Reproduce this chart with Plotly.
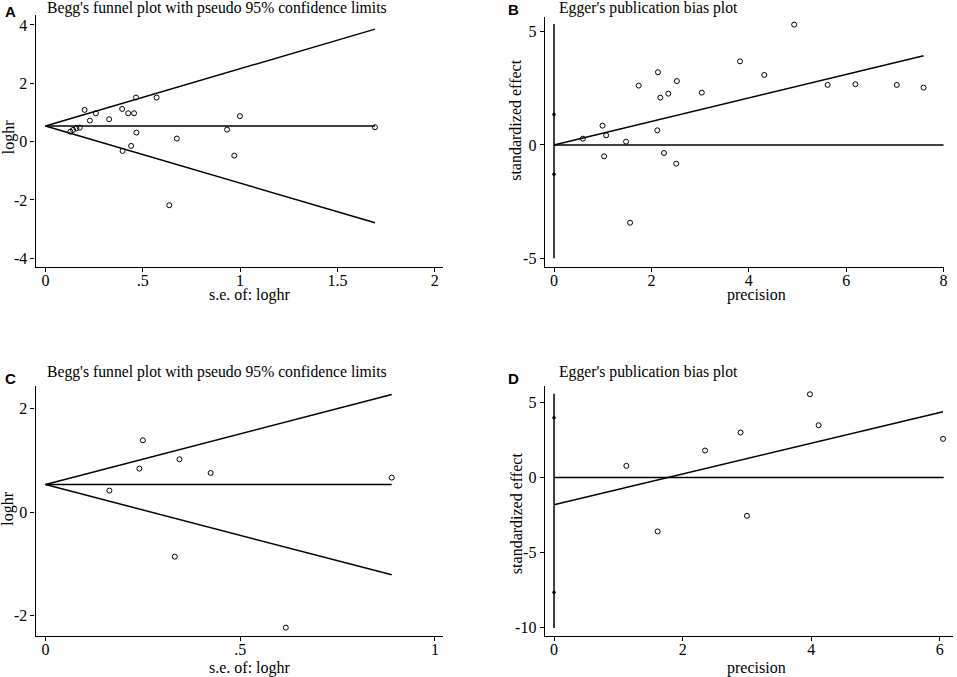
import numpy as np
import plotly.graph_objects as go

# ---------------- data ----------------
# Panel A: Begg's funnel plot
a_se = [0.128, 0.142, 0.159, 0.176, 0.201, 0.228, 0.259, 0.327, 0.394, 0.396, 0.425,
        0.440, 0.455, 0.465, 0.467, 0.571, 0.636, 0.675, 0.933, 0.970, 0.999, 1.693]
a_loghr = [0.343, 0.40, 0.457, 0.48, 1.086, 0.72, 0.971, 0.766, 1.12, -0.32, 0.971,
           -0.149, 0.971, 1.509, 0.309, 1.509, -2.183, 0.103, 0.411, -0.48, 0.869, 0.491]
a_pooled = 0.537

# Panel B: Egger's plot
b_prec = [0.593, 0.996, 1.03, 1.071, 1.48, 1.562, 1.739, 2.121, 2.135, 2.183, 2.258,
          2.347, 2.51, 2.524, 3.035, 3.82, 4.318, 4.932, 5.62, 6.19, 7.04, 7.59]
b_std = [0.279, 0.853, -0.5, 0.426, 0.147, -3.43, 2.62, 0.647, 3.21, 2.09, -0.353,
         2.265, -0.824, 2.82, 2.31, 3.69, 3.09, 5.31, 2.65, 2.68, 2.65, 2.53]
b_intercept, b_slope = 0.0, 0.519
b_ci = [-1.29, 1.34]
b_vline = [-5.0, 5.34]
b_zero_end = 8.0

# Panel C: Begg's funnel plot
c_se = [0.164, 0.241, 0.250, 0.332, 0.344, 0.424, 0.617, 0.889]
c_loghr = [0.419, 0.844, 1.391, -0.857, 1.024, 0.760, -2.229, 0.670]
c_pooled = 0.535

# Panel D: Egger's plot
d_prec = [1.125, 1.611, 2.349, 2.901, 3.0, 3.98, 4.115, 6.05]
d_std = [0.776, -3.59, 1.796, 2.993, -2.55, 5.54, 3.48, 2.57]
d_intercept, d_slope = -1.82, 1.025
d_ci = [-7.63, 3.97]
d_vline = [-10.02, 5.57]
d_zero_end = 6.06

# tick values and labels
a_xt = [0, 0.5, 1, 1.5, 2]; a_xl = ["0", ".5", "1", "1.5", "2"]
a_yt = [-4, -2, 0, 2, 4]; a_yl = ["-4", "-2", "0", "2", "4"]
b_xt = [0, 2, 4, 6, 8]; b_xl = ["0", "2", "4", "6", "8"]
b_yt = [-5, 0, 5]; b_yl = ["-5", "0", "5"]
c_xt = [0, 0.5, 1]; c_xl = ["0", ".5", "1"]
c_yt = [-2, 0, 2]; c_yl = ["-2", "0", "2"]
d_xt = [0, 2, 4, 6]; d_xl = ["0", "2", "4", "6"]
d_yt = [-10, -5, 0, 5]; d_yl = ["-10", "-5", "0", "5"]

W, H = 957, 677
SERIF = "Liberation Serif"
LINE = dict(color="black", width=1.5)

fig = go.Figure()

def px(x):
    return x / W

def py(y):
    return 1 - y / H

def add_begg(se, lhr, pooled, xa, ya):
    smax = max(se)
    xs = [0, smax]
    fig.add_trace(go.Scatter(x=xs, y=[pooled, pooled], mode="lines", line=LINE,
                             xaxis=xa, yaxis=ya, showlegend=False, hoverinfo="skip"))
    fig.add_trace(go.Scatter(x=xs, y=[pooled + 1.96 * s for s in xs], mode="lines", line=LINE,
                             xaxis=xa, yaxis=ya, showlegend=False, hoverinfo="skip"))
    fig.add_trace(go.Scatter(x=xs, y=[pooled - 1.96 * s for s in xs], mode="lines", line=LINE,
                             xaxis=xa, yaxis=ya, showlegend=False, hoverinfo="skip"))
    fig.add_trace(go.Scatter(x=se, y=lhr, mode="markers",
                             marker=dict(symbol="circle-open", size=5, color="black",
                                         line=dict(width=1, color="black")),
                             xaxis=xa, yaxis=ya, showlegend=False))

def add_egger(prec, std, b0, b1, ci, vline, zend, xa, ya):
    pmax = max(prec)
    fig.add_trace(go.Scatter(x=[0, 0], y=vline, mode="lines", line=LINE,
                             xaxis=xa, yaxis=ya, showlegend=False, hoverinfo="skip"))
    fig.add_trace(go.Scatter(x=[0, zend], y=[0, 0], mode="lines", line=LINE,
                             xaxis=xa, yaxis=ya, showlegend=False, hoverinfo="skip"))
    fig.add_trace(go.Scatter(x=[0, pmax], y=[b0, b0 + b1 * pmax], mode="lines", line=LINE,
                             xaxis=xa, yaxis=ya, showlegend=False, hoverinfo="skip"))
    fig.add_trace(go.Scatter(x=[0, 0], y=ci, mode="markers",
                             marker=dict(symbol="circle", size=3.5, color="black"),
                             xaxis=xa, yaxis=ya, showlegend=False))
    fig.add_trace(go.Scatter(x=prec, y=std, mode="markers",
                             marker=dict(symbol="circle-open", size=5, color="black",
                                         line=dict(width=1, color="black")),
                             xaxis=xa, yaxis=ya, showlegend=False))

add_begg(a_se, a_loghr, a_pooled, "x", "y")
add_egger(b_prec, b_std, b_intercept, b_slope, b_ci, b_vline, b_zero_end, "x2", "y2")
add_begg(c_se, c_loghr, c_pooled, "x3", "y3")
add_egger(d_prec, d_std, d_intercept, d_slope, d_ci, d_vline, d_zero_end, "x4", "y4")

def axis(domain, rng, tv, tt, anchor, standoff=0):
    return dict(domain=domain, range=rng, tickvals=tv, ticktext=tt, showline=True,
                linecolor="black", linewidth=1.2, ticks="outside", ticklen=4, tickwidth=1.2,
                tickcolor="black", showgrid=False, zeroline=False, mirror=False, anchor=anchor,
                ticklabelstandoff=standoff, fixedrange=True,
                tickfont=dict(family=SERIF, size=16, color="black"))

left_dom = [px(35.7), px(445)]
right_dom = [px(547), 1.0]
top_dom = [py(266.7), py(15)]
bot_dom = [py(636), py(386)]

XS = -5
YS = 0

fig.update_layout(
    width=W, height=H, margin=dict(l=0, r=0, t=0, b=0),
    paper_bgcolor="white", plot_bgcolor="white", showlegend=False,
    font=dict(family=SERIF, size=16, color="black"),
    xaxis=axis(left_dom, [-0.051, 2.043], a_xt, a_xl, "y", XS),
    yaxis=axis(top_dom, [-4.29, 4.34], a_yt, a_yl, "x", YS),
    xaxis2=axis([px(547), px(948)], [-0.191, 8.01], b_xt, b_xl, "y2", XS),
    yaxis2=axis([py(266.7), py(16.7)], [-5.37, 5.66], b_yt, b_yl, "x2", YS),
    xaxis3=axis(left_dom, [-0.0256, 1.021], c_xt, c_xl, "y3", XS),
    yaxis3=axis(bot_dom, [-2.39, 2.44], c_yt, c_yl, "x3", YS),
    xaxis4=axis(right_dom, [-0.145, 6.205], d_xt, d_xl, "y4", XS),
    yaxis4=axis(bot_dom, [-10.55, 6.09], d_yt, d_yl, "x4", YS),
)

def ann(text, x, y, xanchor="center", yanchor="middle", angle=0, size=16, family=SERIF, bold=False):
    fig.add_annotation(text=("<b>%s</b>" % text) if bold else text,
                       x=px(x), y=py(y), xref="paper", yref="paper",
                       xanchor=xanchor, yanchor=yanchor, textangle=angle, showarrow=False,
                       borderpad=0,
                       font=dict(family=family, size=size, color="black"))

# Panel letters
ann("A", 11, 11, bold=True, family="Liberation Sans", size=15)
ann("B", 516, 9.5, bold=True, family="Liberation Sans", size=15)
ann("C", 10.5, 378, bold=True, family="Liberation Sans", size=15)
ann("D", 516, 378, bold=True, family="Liberation Sans", size=15)

# Titles
ann("Begg's funnel plot with pseudo 95% confidence limits", 46, 8.5, xanchor="left", size=15.7)
ann("Egger's publication bias plot", 560, 8.5, xanchor="left", size=15.7)
ann("Begg's funnel plot with pseudo 95% confidence limits", 46, 371.5, xanchor="left", size=15.7)
ann("Egger's publication bias plot", 560, 371.5, xanchor="left", size=15.7)

# Axis titles
ann("loghr", 8.5, 136.7, angle=-90)
ann("s.e. of: loghr", 251, 294.5)
ann("standardized effect", 518, 120, angle=-90)
ann("precision", 759.7, 294.5)
ann("loghr", 8.5, 508.3, angle=-90)
ann("s.e. of: loghr", 251, 668)
ann("standardized effect", 518, 513.3, angle=-90)
ann("precision", 759.7, 668)

fig.write_html("out.html", config={"displayModeBar": False},
               post_script="document.body.style.margin='0px';document.body.style.overflow='hidden';")
